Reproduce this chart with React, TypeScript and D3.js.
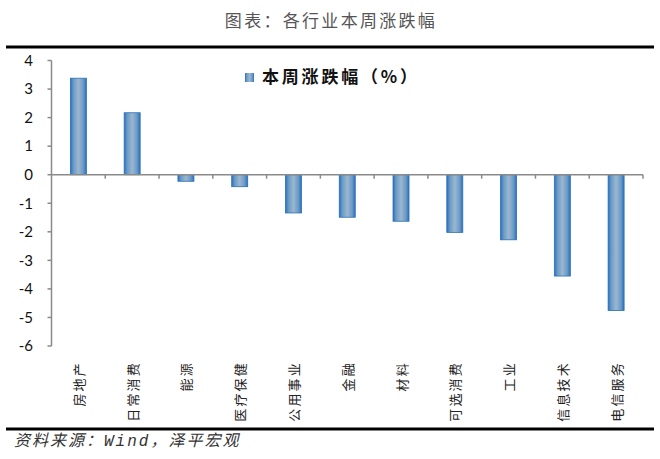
import React from "react";
import * as d3 from "d3";

const categories = ["房地产", "日常消费", "能源", "医疗保健", "公用事业", "金融", "材料", "可选消费", "工业", "信息技术", "电信服务"];
const weeklyChange = [3.38, 2.17, -0.23, -0.42, -1.34, -1.49, -1.63, -2.02, -2.28, -3.55, -4.76];
const yTicks = [4, 3, 2, 1, 0, -1, -2, -3, -4, -5, -6];
const title = "图表：各行业本周涨跌幅";
const legendLabel = "本周涨跌幅（%）";
const sourcePrefix = "资料来源：";
const sourceName = "Wind";
const sourceSuffix = "，泽平宏观";

const W = 660;
const H = 459;

export default function App() {
  const x = d3.scaleBand<string>().domain(categories).range([51.5, 643]);
  const y = d3.scaleLinear().domain([-6, 4]).range([346, 60.5]);
  const barW = 16;
  const cjk = "'Noto Sans CJK SC', sans-serif";
  const num = "Lato, 'Open Sans', sans-serif";
  const y0 = y(0);
  return (
    <svg width={W} height={H} style={{ position: "absolute", left: 0, top: 0 }}>
      <defs>
        <linearGradient id="barGrad" x1="0" x2="1" y1="0" y2="0">
          <stop offset="0" stopColor="#2a70bd" />
          <stop offset="0.2" stopColor="#6c9bc7" />
          <stop offset="0.5" stopColor="#9bb7cf" />
          <stop offset="0.8" stopColor="#6c9bc7" />
          <stop offset="1" stopColor="#2a70bd" />
        </linearGradient>
      </defs>
      <rect width={W} height={H} fill="#fff" />
      <text x={331} y={27} textAnchor="middle" fontFamily={cjk} fontSize={17} fill="#555" letterSpacing={2.3}>
        {title}
      </text>
      <line x1={6} x2={654} y1={47} y2={47} stroke="#000" strokeWidth={3} />
      <line x1={6} x2={654} y1={429} y2={429} stroke="#000" strokeWidth={3} />
      <text x={14} y={446} fontFamily={cjk} fontSize={16} fontStyle="italic" fill="#333" letterSpacing={2}>
        {sourcePrefix}
        <tspan fontFamily="'Liberation Mono', monospace">{sourceName}</tspan>
        {sourceSuffix}
      </text>

      {/* bars */}
      {categories.map((c, i) => {
        const v = weeklyChange[i];
        const cx = (x(c) as number) + x.bandwidth() / 2;
        const top = Math.min(y(v), y0);
        const h = Math.abs(y(v) - y0);
        return (
          <rect key={c} x={cx - barW / 2} y={top} width={barW} height={h} fill="url(#barGrad)" stroke="#2a6fb6" strokeWidth={0.8} />
        );
      })}

      {/* y axis */}
      <line x1={51.5} x2={51.5} y1={y(4)} y2={y(-6)} stroke="#8a8a8a" strokeWidth={1.5} />
      {yTicks.map((t) => (
        <g key={t}>
          <line x1={47.5} x2={51.5} y1={y(t)} y2={y(t)} stroke="#8a8a8a" strokeWidth={1.5} />
          <text x={33} y={y(t)} dy="0.35em" textAnchor="end" fontFamily={num} fontSize={15} fill="#111">
            {t}
          </text>
        </g>
      ))}

      {/* x axis at zero */}
      <line x1={51.5} x2={643} y1={y0} y2={y0} stroke="#8a8a8a" strokeWidth={1.5} />
      {categories.slice(1).map((c) => (
        <line key={c} x1={x(c) as number} x2={x(c) as number} y1={y0} y2={y0 + 4} stroke="#8a8a8a" strokeWidth={1.5} />
      ))}
      <line x1={643} x2={643} y1={y0} y2={y0 + 4} stroke="#8a8a8a" strokeWidth={1.5} />

      {/* category labels */}
      {categories.map((c) => {
        const cx = (x(c) as number) + x.bandwidth() / 2;
        return (
          <text
            key={c}
            transform={`translate(${cx},361) rotate(-90)`}
            textAnchor="end"
            dominantBaseline="central"
            fontFamily={cjk}
            fontSize={13}
            letterSpacing={2.2}
            fill="#222"
          >
            {c}
          </text>
        );
      })}

      {/* legend */}
      <rect x={245} y={73} width={9} height={9} fill="url(#barGrad)" />
      <text x={262} y={83} fontFamily={cjk} fontSize={17} fontWeight="bold" fill="#111" letterSpacing={2.8}>
        {legendLabel}
      </text>
    </svg>
  );
}
